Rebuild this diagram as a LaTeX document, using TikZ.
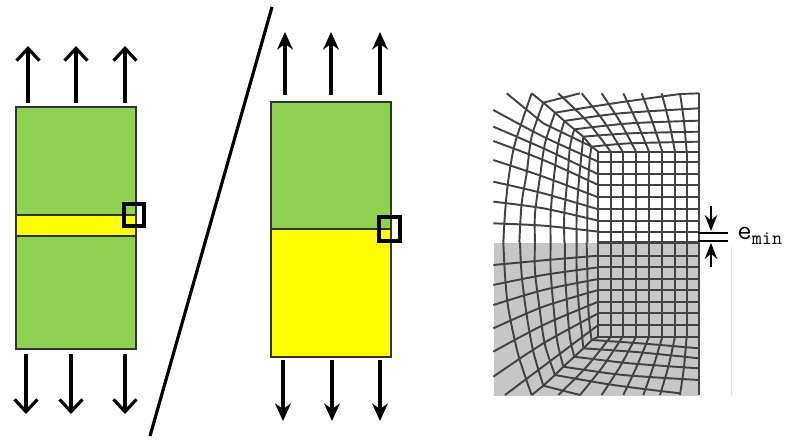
\documentclass[tikz,border=0pt]{standalone}
\usepackage{amsmath}
\usetikzlibrary{arrows.meta}
\definecolor{barGreen}{HTML}{8FD151}
\definecolor{barYellow}{HTML}{FFFF00}
\definecolor{meshGray}{HTML}{C6C6C6}
\definecolor{meshLine}{HTML}{424242}
\tikzset{
    barbox/.style={draw=black!80, line width=1.1pt},
    markbox/.style={draw=black, line width=1.9pt},
    openload/.style={line width=1.8pt, -{Straight Barb[length=7pt,width=13pt,line width=1.8pt]}},
    fullload/.style={line width=1.8pt, -{Stealth[length=10pt,width=9pt]}},
    meshline/.style={draw=meshLine, line width=1.1pt},
    gapline/.style={line width=1.2pt},
    gaparrow/.style={line width=1.3pt, -{Stealth[length=9pt,width=7pt]}},
}
\begin{document}
\begin{tikzpicture}[x=0.02cm, y=-0.02cm]
    \useasboundingbox (0,0) rectangle (785,441);

    % left bar
    \fill[barGreen] (16,107) rectangle (136,349);
    \fill[barYellow] (16,215) rectangle (136,236);
    \draw[barbox] (16,107) rectangle (136,349);
    \draw[barbox] (16,215) -- (136,215) (16,236) -- (136,236);
    \draw[markbox] (124,204) rectangle (144,226);
    \foreach \x in {28,76,125}
        \draw[openload] (\x,103) -- (\x,46);
    \foreach \x in {26,71,125}
        \draw[openload] (\x,354) -- (\x,414);

    % separator
    \draw[line width=1.8pt] (272,7) -- (150,436);

    % middle bar
    \fill[barGreen] (271,102) rectangle (391,229);
    \fill[barYellow] (271,229) rectangle (391,357);
    \draw[barbox] (271,102) rectangle (391,357);
    \draw[barbox] (271,229) -- (391,229);
    \draw[markbox] (379,217) rectangle (400,241);
    \foreach \x in {285,331,380}
        \draw[fullload] (\x,95) -- (\x,32);
    \foreach \x in {283,332,380}
        \draw[fullload] (\x,360) -- (\x,421);

    % mesh
    \fill[meshGray] (494,243) rectangle (698,396);
    \draw[black!12, line width=0.4pt] (731,247) -- (731,396);

    % upper half, numbers as read off the crop (3 units per pixel)
    \begin{scope}[shift={(480,80)}, x=0.02cm/3, y=-0.02cm/3]
        \foreach \y in {215,245,283,315,352,388,422,455,488}
            \draw[meshline] (355,\y) -- (657,\y);
        \foreach \x in {355,392,428,468,507,547,585,620,657}
            \draw[meshline] (\x,215) -- (\x,488);
        \draw[meshline] (657,40) -- (657,215);
        \draw[meshline] (355,215) -- (335,200) -- (310,170) -- (283,148) -- (253,123) -- (225,98) -- (190,68) -- (155,40);
        % fan above
        \foreach \xa/\xm/\xb in {392/322/235,428/372/305,468/420/365,507/470/430,547/517/485,585/567/545,620/612/600}
            \draw[meshline] plot[smooth] coordinates {(\xa,215) (\xm,125) (\xb,40)};
        \draw[meshline] plot[smooth] coordinates {(335,200) (450,190) (657,185)};
        \draw[meshline] plot[smooth] coordinates {(310,170) (450,160) (657,155)};
        \draw[meshline] plot[smooth] coordinates {(283,148) (450,130) (657,122)};
        \draw[meshline] plot[smooth] coordinates {(253,123) (420,100) (657,85)};
        \draw[meshline] plot[smooth] coordinates {(225,98) (400,70) (600,42)};
        \draw[meshline] (190,68) -- (300,40) (600,42) -- (657,40);
        % fan to the left
        \foreach \ya/\ym/\yb in {245/170/90,283/205/140,315/240/183,352/290/240,388/340/305,422/385/365,455/437/430}
            \draw[meshline] plot[smooth] coordinates {(355,\ya) (190,\ym) (40,\yb)};
        \draw[meshline] (80,40) -- (190,130) -- (335,200);
        \draw[meshline] plot[smooth] coordinates {(70,488) (75,400) (85,300) (105,190) (155,40)};
        \draw[meshline] plot[smooth] coordinates {(118,488) (125,370) (140,280) (155,170) (190,68)};
        \draw[meshline] plot[smooth] coordinates {(165,488) (165,400) (180,290) (195,190) (225,98)};
        \draw[meshline] plot[smooth] coordinates {(212,488) (212,400) (222,290) (235,190) (253,123)};
        \draw[meshline] plot[smooth] coordinates {(253,488) (253,400) (262,300) (270,200) (283,148)};
        \draw[meshline] plot[smooth] coordinates {(290,488) (290,400) (297,300) (305,220) (310,170)};
        \draw[meshline] plot[smooth] coordinates {(322,488) (322,400) (325,300) (330,230) (335,200)};
    \end{scope}

    % lower half
    \begin{scope}[shift={(480,235)}, x=0.02cm/3, y=-0.02cm/3]
        \foreach \y in {22,62,97,132,165,200,235,270,305}
            \draw[meshline] (355,\y) -- (657,\y);
        \foreach \x in {355,392,428,468,507,547,585,620,657}
            \draw[meshline] (\x,22) -- (\x,305);
        \draw[meshline] (657,305) -- (657,480);
        \draw[meshline] (355,305) -- (335,315) -- (310,340) -- (283,365) -- (250,395) -- (225,420) -- (190,452) -- (155,480);
        % fan below
        \foreach \xa/\xm/\xb in {392/320/235,428/368/300,468/420/365,507/470/430,547/520/490,585/565/540,620/612/600}
            \draw[meshline] plot[smooth] coordinates {(\xa,305) (\xm,395) (\xb,480)};
        \draw[meshline] plot[smooth] coordinates {(335,315) (480,325) (657,340)};
        \draw[meshline] plot[smooth] coordinates {(310,340) (480,352) (657,370)};
        \draw[meshline] plot[smooth] coordinates {(283,365) (450,385) (657,400)};
        \draw[meshline] plot[smooth] coordinates {(250,395) (430,420) (657,435)};
        \draw[meshline] plot[smooth] coordinates {(225,420) (400,450) (600,475)};
        \draw[meshline] (190,452) -- (300,480);
        % fan to the left
        \foreach \ya/\ym/\yb in {62/76/90,97/120/150,132/165/210,165/215/280,200/270/350,235/325/425}
            \draw[meshline] plot[smooth] coordinates {(355,\ya) (190,\ym) (40,\yb)};
        \draw[meshline] (355,270) -- (75,480);
        \draw[meshline] plot[smooth] coordinates {(70,22) (75,120) (85,220) (115,360) (155,480)};
        \draw[meshline] plot[smooth] coordinates {(120,22) (125,120) (140,240) (160,350) (190,452)};
        \draw[meshline] plot[smooth] coordinates {(165,22) (165,110) (180,230) (195,330) (225,420)};
        \draw[meshline] plot[smooth] coordinates {(212,22) (212,110) (222,230) (232,320) (250,395)};
        \draw[meshline] plot[smooth] coordinates {(255,22) (255,110) (262,220) (270,310) (283,365)};
        \draw[meshline] plot[smooth] coordinates {(290,22) (290,110) (297,220) (305,290) (310,340)};
        \draw[meshline] plot[smooth] coordinates {(320,22) (322,110) (325,220) (330,280) (335,315)};
    \end{scope}

    % gap
    \draw[gapline] (698,233) -- (728,233) (698,241) -- (728,241);
    \coordinate (gaptop) at (711,206);
    \coordinate (gapbot) at (711,267);
    \draw[gaparrow] (gaptop) -- (711,231);
    \draw[gaparrow] (gapbot) -- (711,243);
    \node[anchor=west, inner sep=0pt, font=\fontsize{16}{18}\selectfont] (emin) at (737,236) {\texttt{e}$_{\texttt{min}}$};
\end{tikzpicture}
\end{document}
